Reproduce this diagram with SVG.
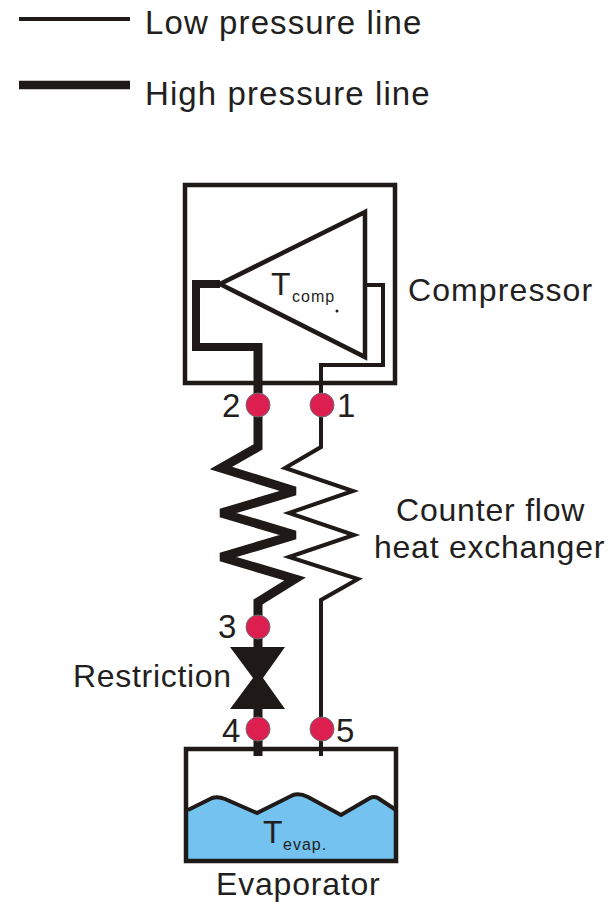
<svg xmlns="http://www.w3.org/2000/svg" width="611" height="902" viewBox="0 0 611 902">
<style>
text{font-family:"Liberation Sans",Arial,sans-serif;fill:#231f20}
.lbl{font-size:32px}
.leg{font-size:33px;letter-spacing:1.1px}
.num{font-size:33px}
.t{font-size:32px}
.sub{font-size:16px;letter-spacing:1px}
.thick{fill:none;stroke:#1f1a17;stroke-width:8;stroke-linejoin:miter;stroke-miterlimit:3}
.thin{fill:none;stroke:#1f1a17;stroke-width:4;stroke-linejoin:miter;stroke-miterlimit:6}
.box{fill:none;stroke:#1f1a17;stroke-width:4.5}
.dot{fill:#dc1f4e;stroke:#6d6e71;stroke-width:1}
</style>
<rect width="611" height="902" fill="#fff"/>
<g id="legend">
<line class="thin" x1="19" y1="19" x2="130" y2="19"/>
<line class="thick" x1="19" y1="85" x2="130" y2="85" style="stroke-width:8.5"/>
<text class="leg" x="145" y="34">Low pressure line</text>
<text class="leg" x="145" y="105">High pressure line</text>
</g>
<g id="compressor">
<rect class="box" x="185" y="185" width="210" height="198"/>
<path d="M365 212L220 284L365 357Z" fill="none" stroke="#1f1a17" stroke-width="4.5" stroke-linejoin="miter" stroke-miterlimit="2"/>
<text class="t" x="271" y="295">T</text>
<text class="sub" x="292" y="302">comp</text>
<circle cx="337" cy="311" r="1.5" fill="#231f20"/>
<text class="lbl" x="408" y="301" style="letter-spacing:1.1px">Compressor</text>
</g>
<g id="evaporator">
<path d="M188 810L212 798Q218 796 225 799L257 813L293 795Q300 793 308 797L341 815L370 798Q374 796 378 798L395 810V859H188Z" fill="#73c2ef"/>
<path d="M188 810L212 798Q218 796 225 799L257 813L293 795Q300 793 308 797L341 815L370 798Q374 796 378 798L396 810" fill="none" stroke="#1f1a17" stroke-width="4"/>
<rect class="box" x="186" y="749" width="210" height="112"/>
<text class="t" x="263" y="843">T</text>
<text class="sub" x="283" y="850">evap.</text>
<text class="lbl" x="216" y="895" style="letter-spacing:.8px">Evaporator</text>
</g>
<g id="connectors">
<path class="thick" d="M220 284H196V347H258"/>
<path class="thick" style="stroke-width:9" d="M258 343V447L221 468L295 491L221 513L295 535L221 557L295 579L258 602V756"/>
<path class="thin" d="M365 285H383V365H321V447L285 468L353 491L289 513L354 535L289 557L358 579L321 600V756"/>
</g>
<g id="restriction">
<path d="M230 647H285L263 678L285 709H230L253 678Z" fill="#1f1a17"/>
<text class="lbl" x="73" y="687" style="letter-spacing:.7px">Restriction</text>
</g>
<g id="point-1"><circle class="dot" cx="322" cy="405" r="12"/><text class="num" x="337" y="417">1</text></g>
<g id="point-2"><circle class="dot" cx="258" cy="405" r="12"/><text class="num" x="222" y="417">2</text></g>
<g id="point-3"><circle class="dot" cx="258" cy="627" r="12"/><text class="num" x="218" y="638">3</text></g>
<g id="point-4"><circle class="dot" cx="258" cy="729" r="12"/><text class="num" x="222" y="742">4</text></g>
<g id="point-5"><circle class="dot" cx="322" cy="729" r="12"/><text class="num" x="336" y="742">5</text></g>
<g id="exchanger-label">
<text class="lbl" x="396" y="521" style="letter-spacing:.8px">Counter flow</text>
<text class="lbl" x="374" y="558" style="letter-spacing:.75px">heat exchanger</text>
</g>
</svg>
